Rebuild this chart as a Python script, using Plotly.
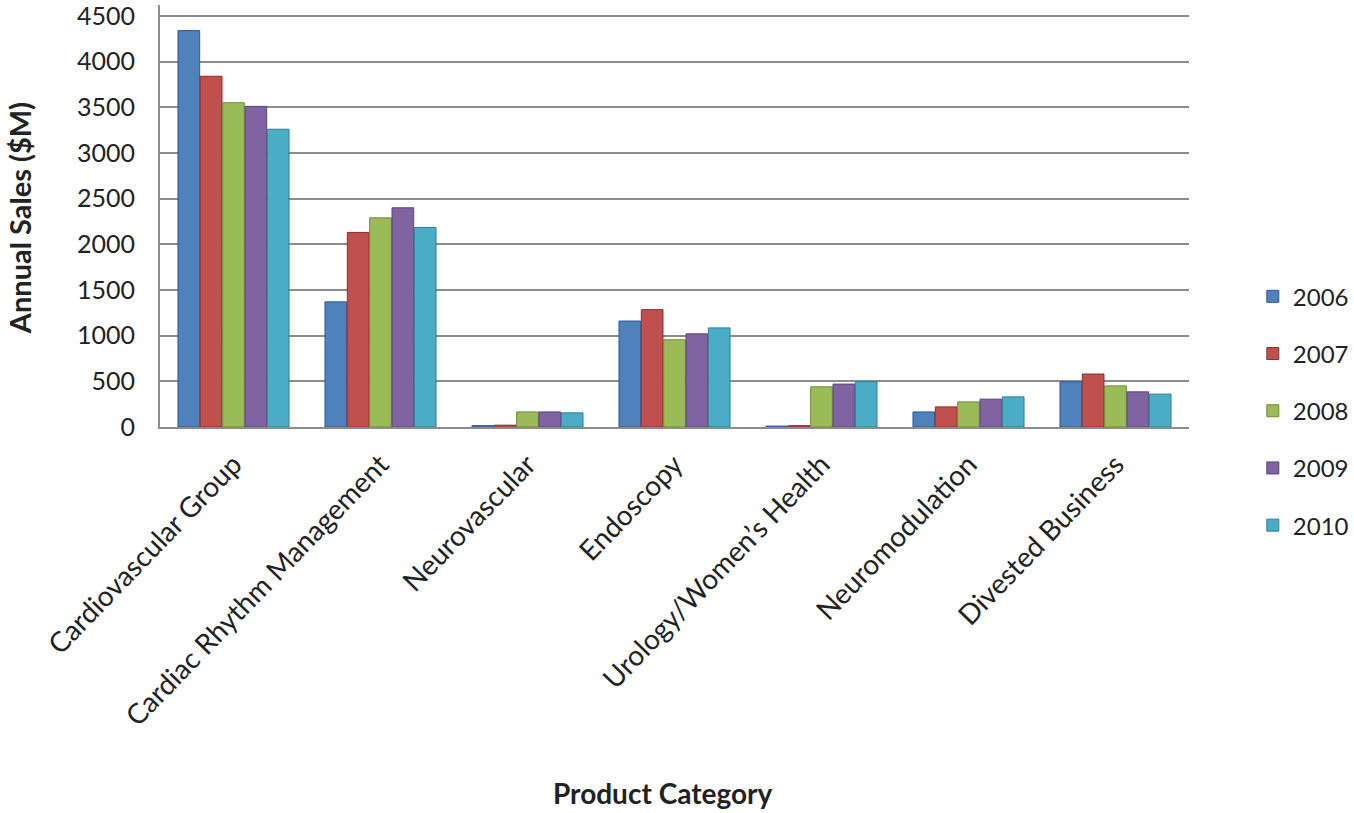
import plotly.graph_objects as go

categories = ["Cardiovascular Group", "Cardiac Rhythm Management", "Neurovascular",
              "Endoscopy", "Urology/Women\u2019s Health", "Neuromodulation", "Divested Business"]
years = ["2006", "2007", "2008", "2009", "2010"]
sales_2006 = [4340, 1370, 15, 1160, 10, 165, 495]
sales_2007 = [3840, 2130, 20, 1285, 15, 220, 580]
sales_2008 = [3550, 2290, 165, 955, 440, 275, 450]
sales_2009 = [3510, 2400, 165, 1020, 470, 305, 385]
sales_2010 = [3260, 2185, 155, 1085, 495, 330, 360]
series = [sales_2006, sales_2007, sales_2008, sales_2009, sales_2010]
y_ticks = [0, 500, 1000, 1500, 2000, 2500, 3000, 3500, 4000, 4500]
colors = ["#4F81BD", "#C0504D", "#9BBB59", "#8064A2", "#4BACC6"]
edge_colors = ["#2C5A92", "#8E2E2B", "#6E8C36", "#5A4479", "#2A8099"]

fig = go.Figure()
for i, (yr, vals) in enumerate(zip(years, series)):
    fig.add_trace(go.Bar(
        x=categories, y=vals, name=yr,
        marker=dict(color=colors[i], line=dict(color=edge_colors[i], width=1)),
        legendgroup=yr,
    ))

font_family = "Lato, 'Open Sans', sans-serif"
fig.update_layout(
    width=1354, height=813,
    paper_bgcolor="white", plot_bgcolor="white",
    margin=dict(l=160, r=165, t=5, b=386, autoexpand=False),
    barmode="group", bargap=0.24, bargroupgap=0.03,
    font=dict(family=font_family, size=25, color="#222222"),
    legend=dict(x=1.062, y=0.362, xanchor="left", yanchor="top",
                font=dict(size=24, color="#222222"), tracegroupgap=23,
                itemwidth=30),
    showlegend=True,
    annotations=[
        dict(text="<b>Annual Sales ($M)</b>", x=-0.137, y=0.495, xref="paper", yref="paper",
             xanchor="center", yanchor="middle", textangle=-90, showarrow=False,
             font=dict(size=29, color="#222222")),
        dict(text="<b>Product Category</b>", x=0.488, y=-0.868, xref="paper", yref="paper",
             xanchor="center", yanchor="middle", showarrow=False,
             font=dict(size=28, color="#222222")),
    ],
)
fig.update_yaxes(range=[0, 4620], tickvals=y_ticks, ticklabeloverflow="allow",
                 showgrid=True, gridcolor="#8C8C8C", gridwidth=2,
                 showline=True, linecolor="#8C8C8C", linewidth=2, zeroline=False,
                 ticks="", ticklabelstandoff=18, tickfont=dict(size=25, color="#222222"))
fig.update_xaxes(tickangle=-46, showline=True, linecolor="#8C8C8C", linewidth=2,
                 ticks="", ticklabelstandoff=8, tickfont=dict(size=28, color="#222222"))

fig.write_html("out.html")
